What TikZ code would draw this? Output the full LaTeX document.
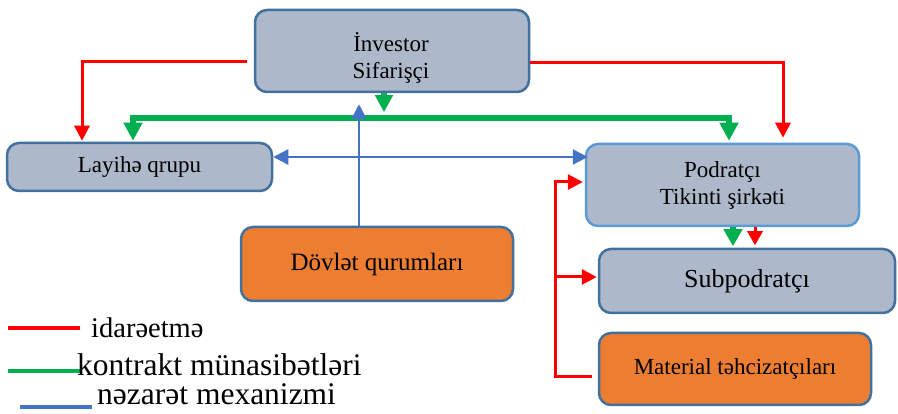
\documentclass[tikz,border=0pt]{standalone}
\usepackage{fontspec}
\setmainfont{Liberation Serif}
\usetikzlibrary{arrows.meta,calc}
\definecolor{boxfill}{HTML}{ADB9CA}
\definecolor{boxline}{HTML}{41719C}
\definecolor{podline}{HTML}{5B9BD5}
\definecolor{orangefill}{HTML}{ED7D31}
\definecolor{rcol}{HTML}{FF0000}
\definecolor{gcol}{HTML}{00B050}
\definecolor{bcol}{HTML}{4472C4}
\begin{document}
\begin{tikzpicture}[x=1pt,y=-1pt,
  box/.style={draw=boxline, line width=2.5pt, rounded corners=12pt, fill=boxfill, inner sep=0pt, align=center, font=\fontsize{23}{27}\selectfont},
  obox/.style={box, fill=orangefill},
  txt/.style={inner sep=0pt, align=center, font=\fontsize{23}{27}\selectfont},
  legtxt/.style={inner sep=0pt, anchor=base west},
  rline/.style={draw=rcol, line width=3pt},
  rarr/.style={rline, -{Triangle[length=15pt,width=15pt]}},
  gline/.style={draw=gcol, line width=6pt},
  garr/.style={gline, -{Triangle[length=18pt,width=18pt]}},
  bline/.style={draw=bcol, line width=2.5pt},
  barr/.style={bline, -{Triangle[length=15pt,width=15pt]}},
]
\useasboundingbox (0,0) rectangle (898,414);
\fill[white] (0,0) rectangle (898,414);

% boxes
\node[box, minimum width=274pt, minimum height=82pt] (inv) at (392,51) {};
\node[txt] (invtext) at (391,58) {İnvestor\\Sifarişçi};
\node[box, minimum width=265pt, minimum height=48pt] (lay) at (139.5,167) {Layihə qrupu};
\node[box, draw=podline, minimum width=273pt, minimum height=82pt] (pod) at (722.5,185) {Podratçı\\Tikinti şirkəti};
\node[box, minimum width=296pt, minimum height=64pt, font=\fontsize{26}{30}\selectfont] (sub) at (747,281) {Subpodratçı};
\node[obox, minimum width=272pt, minimum height=72pt] (mat) at (735,369) {Material təhcizatçıları};
\node[obox, minimum width=272pt, minimum height=74pt, font=\fontsize{25}{29}\selectfont] (dov) at (377,264) {Dövlət qurumları};

% helper coordinates
\coordinate (gmid) at (400,118);
\coordinate (bl) at (0,157);
\coordinate (rtop) at (555,182);
\coordinate (rmid) at (555,277);

% red: management
\draw[rarr] ([shift={(-7,11)}]inv.west) -| ([shift={(-57.5,-1)}]lay.north);
\draw[rarr, shorten >=5pt] ([shift={(0,12)}]inv.east) -| ([xshift=60.5]pod.north);
\draw[rarr] ([shift={(-6,8)}]mat.west) -| (rtop) -- ([xshift=-2]pod.west |- rtop);
\draw[rarr] (rmid) -- ([xshift=-1]sub.west |- rmid);

% green: contracts
\draw[gline, {Triangle[length=18pt,width=18pt]}-{Triangle[length=18pt,width=18pt]}]
  ([shift={(-6.5,-1)}]lay.north) |- (gmid) -| ([shift={(6.5,-2)}]pod.north);
\draw[gline, -{Triangle[length=17pt,width=17pt]}] ([xshift=-8]inv.south) -- ([shift={(-8,19)}]inv.south);
\draw[gline, -{Triangle[length=17pt,width=18pt]}] ([xshift=10.5]pod.south) -- ([shift={(10.5,19)}]pod.south);
\draw[rline, -{Triangle[length=14pt,width=15pt]}] ([xshift=32.5]pod.south) -- ([shift={(32.5,18)}]pod.south);

% blue: supervision
\draw[bline, {Triangle[length=15pt,width=15pt]}-{Triangle[length=15pt,width=15pt]}]
  (lay.east |- bl) -- ([xshift=3]pod.west |- bl);
\draw[barr] ([xshift=-18]dov.north) -- ([shift={(-33,11)}]inv.south);

% legend
\coordinate (l1a) at (8,328); \coordinate (l1b) at (80,328);
\coordinate (l2a) at (8,371); \coordinate (l2b) at (80,371);
\coordinate (l3a) at (20,407); \coordinate (l3b) at (92,407);
\draw[draw=rcol, line width=4pt] (l1a) -- (l1b);
\draw[draw=gcol, line width=4pt] (l2a) -- (l2b);
\draw[draw=bcol, line width=3.5pt] (l3a) -- (l3b);
\node[legtxt, font=\fontsize{28.5}{32}\selectfont] (leg1) at (91,338) {idarəetmə};
\node[legtxt, font=\fontsize{31.5}{35}\selectfont] (leg2) at (77,376) {kontrakt münasibətləri};
\node[legtxt, font=\fontsize{31.5}{35}\selectfont] (leg3) at (97,405) {nəzarət mexanizmi};
\end{tikzpicture}
\end{document}
